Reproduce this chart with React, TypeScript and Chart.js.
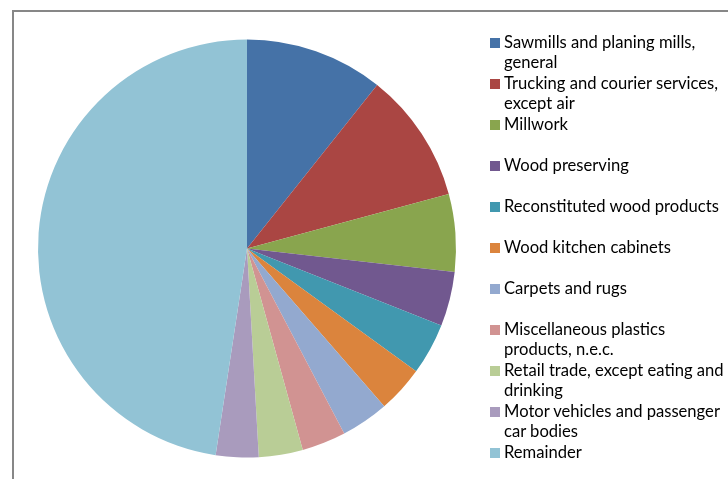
import React, { useEffect, useRef } from "react";
import { Chart, registerables } from "chart.js";

Chart.register(...registerables);

const categories: string[] = [
  "Sawmills and planing mills,\ngeneral",
  "Trucking and courier services,\nexcept air",
  "Millwork",
  "Wood preserving",
  "Reconstituted wood products",
  "Wood kitchen cabinets",
  "Carpets and rugs",
  "Miscellaneous plastics\nproducts, n.e.c.",
  "Retail trade, except eating and\ndrinking",
  "Motor vehicles and passenger\ncar bodies",
  "Remainder",
];

const values: number[] = [10.7, 10.1, 6.0, 4.2, 4.0, 3.6, 3.7, 3.4, 3.4, 3.3, 47.6];

const colors: string[] = [
  "#4572A7",
  "#AA4643",
  "#89A54E",
  "#71588F",
  "#4198AF",
  "#DB843D",
  "#93A9CF",
  "#D19392",
  "#B9CD96",
  "#A99BBD",
  "#92C3D5",
];

const FONT = "Lato, 'Open Sans', sans-serif";

export default function App() {
  const canvasRef = useRef<HTMLCanvasElement | null>(null);

  useEffect(() => {
    if (!canvasRef.current) return;
    const chart = new Chart(canvasRef.current, {
      type: "pie",
      data: {
        labels: categories.map((c) => c.replace("\n", " ")),
        datasets: [
          {
            data: values,
            backgroundColor: colors,
            borderWidth: 0,
          },
        ],
      },
      options: {
        animation: false,
        responsive: false,
        maintainAspectRatio: false,
        layout: { padding: { left: 38, right: 272, top: 39.5, bottom: 21.5 } },
        plugins: {
          legend: { display: false },
          tooltip: { enabled: false },
        },
      },
    });
    return () => chart.destroy();
  }, []);

  return (
    <div
      style={{
        position: "absolute",
        left: 0,
        top: 0,
        width: 728,
        height: 479,
        overflow: "hidden",
        background: "#fff",
      }}
    >
      <div
        style={{
          position: "absolute",
          left: 12,
          top: 10,
          width: 900,
          height: 700,
          borderLeft: "2px solid #878787",
          borderTop: "2px solid #878787",
        }}
      />
      <canvas
        ref={canvasRef}
        width={728}
        height={479}
        style={{ position: "absolute", left: 0, top: 0, width: 728, height: 479 }}
      />
      <div
        style={{
          position: "absolute",
          left: 490,
          top: 32,
          width: 240,
          fontFamily: FONT,
          fontSize: 16.6,
          lineHeight: "20px",
          color: "#000",
        }}
      >
        {categories.map((c, i) => (
          <div key={i} style={{ position: "relative", height: 41 }}>
            <div
              style={{
                position: "absolute",
                left: 0,
                top: 6,
                width: 10,
                height: 10,
                background: colors[i],
              }}
            />
            <div style={{ position: "absolute", left: 14, top: 0, whiteSpace: "pre" }}>{c}</div>
          </div>
        ))}
      </div>
    </div>
  );
}
